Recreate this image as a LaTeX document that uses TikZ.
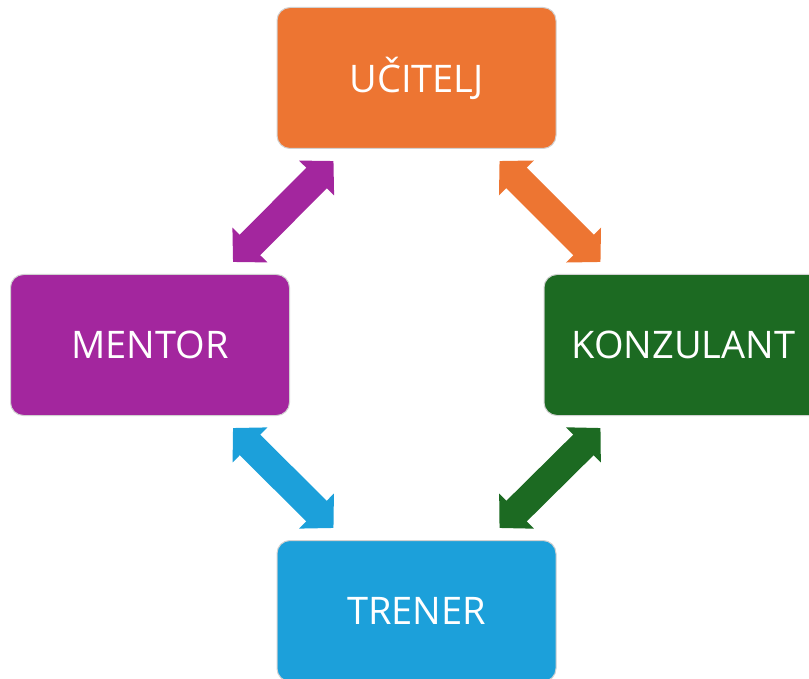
\documentclass[tikz,border=0pt]{standalone}
\usepackage{fontspec}
\setmainfont{Open Sans}
\usetikzlibrary{arrows.meta,calc}
\definecolor{ucOrange}{RGB}{237,117,50}
\definecolor{meMagenta}{RGB}{163,38,158}
\definecolor{koGreen}{RGB}{28,106,34}
\definecolor{trBlue}{RGB}{28,160,218}
\tikzset{
  rolebox/.style={rectangle, rounded corners=13pt, minimum width=279pt,
    minimum height=141pt, draw=black!18, line width=1pt, text=white,
    inner sep=0pt, font=\fontsize{38}{44}\selectfont},
  link/.style={line width=29pt,
    {Triangle[length=24pt,width=48pt]}-{Triangle[length=24pt,width=48pt]}},
}
\begin{document}
\begin{tikzpicture}[x=1pt,y=-1pt]
  \useasboundingbox (0,0) rectangle (809,679);
  % the four roles
  \node[rolebox, fill=ucOrange]  (UC) at (416.5,78)  {UČITELJ};
  \node[rolebox, fill=meMagenta] (ME) at (150,345)   {MENTOR};
  \node[rolebox, fill=koGreen]   (KO) at (683.5,345) {KONZULANT};
  \node[rolebox, fill=trBlue]    (TR) at (416.5,611) {TRENER};
  % two-way links between neighbouring roles
  \coordinate (meA) at ($(ME.north east)+(-57,-12)$);
  \coordinate (ucA) at ($(UC.south west)+(57,12)$);
  \coordinate (ucB) at ($(UC.south east)+(-57,12)$);
  \coordinate (koA) at ($(KO.north west)+(57,-12)$);
  \coordinate (meB) at ($(ME.south east)+(-57,12)$);
  \coordinate (trA) at ($(TR.north west)+(57,-12)$);
  \coordinate (koB) at ($(KO.south west)+(57,12)$);
  \coordinate (trB) at ($(TR.north east)+(-57,-12)$);
  \draw[link, meMagenta] (meA) -- (ucA);
  \draw[link, ucOrange]  (ucB) -- (koA);
  \draw[link, trBlue]    (meB) -- (trA);
  \draw[link, koGreen]   (koB) -- (trB);
\end{tikzpicture}
\end{document}
